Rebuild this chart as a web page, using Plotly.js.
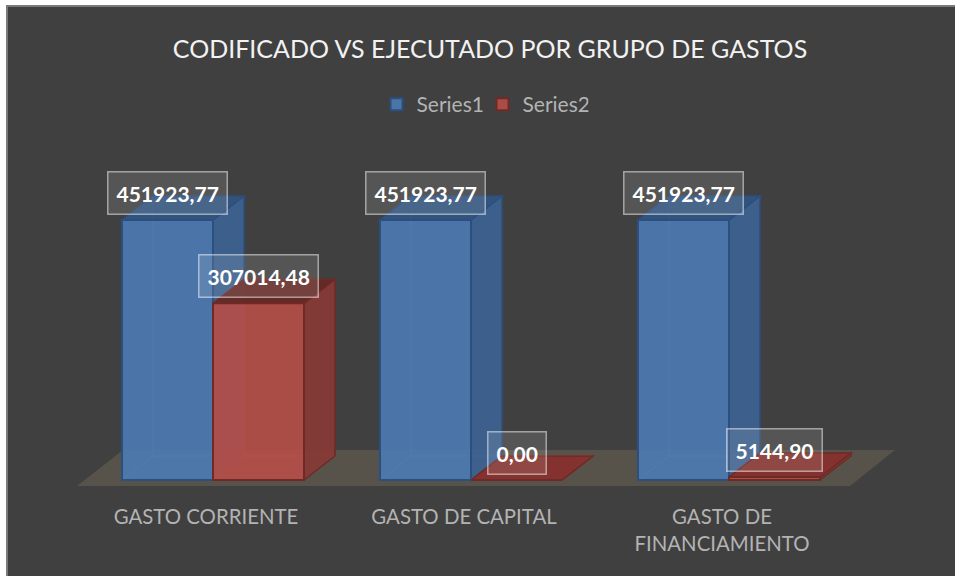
<!DOCTYPE html>
<html>
<head>
<meta charset="utf-8">
<script src="https://cdn.plot.ly/plotly-3.0.1.min.js"></script>
<style>
html,body{margin:0;padding:0;background:#fff;width:955px;height:576px;overflow:hidden}
#chart{position:absolute;left:6px;top:5px;width:947px;height:569px;border-left:2px solid #7a7a7a;border-top:2px solid #7a7a7a}
</style>
</head>
<body>
<div id="chart"></div>
<script>
var categories = ['GASTO CORRIENTE', 'GASTO DE CAPITAL', 'GASTO DE<br>FINANCIAMIENTO'];
var series1Name = 'Series1';
var series2Name = 'Series2';
var series1 = [451923.77, 451923.77, 451923.77];
var series2 = [307014.48, 0.00, 5144.90];
var chartTitle = 'CODIFICADO VS EJECUTADO POR GRUPO DE GASTOS';

// scale: pixels per unit of each axis
var PX_X = 258, PX_Y = 260 / 451923.77;
var barW = 91 / PX_X, depthX = 31 / PX_X, depthY = 24 / PX_Y;
var labelShift = -7 / PX_X;
var idx = categories.map(function (_, i) { return i; });

function poly(pts) {
  return 'M' + pts.map(function (p) { return p[0] + ',' + p[1]; }).join('L') + 'Z';
}
function shape(pts, fill, line, lw) {
  return {type: 'path', xref: 'x', yref: 'y', layer: 'below', path: poly(pts),
          fillcolor: fill, line: {color: line, width: lw === undefined ? 1.5 : lw}};
}
var shapes = [];
// floor
shapes.push({type: 'path', xref: 'x', yref: 'y', layer: 'below',
  path: poly([[(77 - 213) / PX_X, -6 / PX_Y], [(850 - 213) / PX_X, -6 / PX_Y],
              [(895 - 213) / PX_X, 30 / PX_Y], [(123 - 213) / PX_X, 30 / PX_Y]]),
  fillcolor: '#57534a', line: {width: 0}});

function box3d(x0, v, side, top, edge, inner) {
  var x1 = x0 + barW;
  // hidden rear edges, seen through the translucent front
  shapes.push({type: 'path', xref: 'x', yref: 'y', layer: 'below', fillcolor: 'rgba(0,0,0,0)',
    line: {color: inner, width: 1},
    path: 'M' + x0 + ',0L' + (x0 + depthX) + ',' + depthY + 'L' + (x1 + depthX) + ',' + depthY +
          'M' + (x0 + depthX) + ',' + depthY + 'L' + (x0 + depthX) + ',' + (v + depthY)});
  // side face
  shapes.push(shape([[x1, 0], [x1 + depthX, depthY], [x1 + depthX, v + depthY], [x1, v]], side, edge));
  // top face
  shapes.push(shape([[x0, v], [x1, v], [x1 + depthX, v + depthY], [x0 + depthX, v + depthY]], top, edge));
}
idx.forEach(function (i) { box3d(i - barW, series1[i], 'rgba(60,98,146,0.92)', 'rgba(50,84,128,0.95)', '#2b4f7e', '#5f8fc8'); });
idx.forEach(function (i) {
  box3d(i, series2[i], 'rgba(134,58,54,0.95)', series2[i] > 100000 ? 'rgba(100,42,38,0.97)' : 'rgba(132,50,46,0.97)', '#6f2a26', '#c0605a');
});

function fmt(v) { return v.toFixed(2).replace('.', ','); }
function label(x, v) {
  return {x: x, y: v, xref: 'x', yref: 'y', text: '<b>' + fmt(v) + '</b>', showarrow: false,
    xanchor: 'center', yanchor: 'middle', yshift: 27,
    font: {family: 'Lato, Carlito, sans-serif', size: 21, color: '#ffffff'},
    bgcolor: 'rgba(255,255,255,0.11)', bordercolor: 'rgba(255,255,255,0.5)', borderwidth: 1.5, borderpad: 8};
}
var annotations = [];
idx.forEach(function (i) { annotations.push(label(i - barW / 2, series1[i])); });
idx.forEach(function (i) { annotations.push(label(i + barW / 2, series2[i])); });

var traces = [
  {type: 'bar', name: series1Name, x: idx, y: series1, width: barW, offset: -barW,
   marker: {color: 'rgba(76,122,180,0.9)', line: {color: '#2b4f7e', width: 2}}, hoverinfo: 'skip'},
  {type: 'bar', name: series2Name, x: idx, y: series2, width: barW, offset: 0,
   marker: {color: 'rgba(180,78,72,0.92)', line: {color: '#6f2a26', width: 2}}, hoverinfo: 'skip'}
];

var layout = {
  width: 947, height: 569,
  paper_bgcolor: '#404040', plot_bgcolor: 'rgba(0,0,0,0)',
  margin: {l: 0, r: 0, t: 0, b: 81, pad: 0},
  barmode: 'overlay',
  title: {text: chartTitle, x: 0.509, xanchor: 'center', y: 0.926, yanchor: 'middle',
    font: {family: 'Lato, Carlito, sans-serif', size: 25, color: '#f2f2f2'}},
  xaxis: {range: [(8 - 213) / PX_X, (955 - 213) / PX_X], tickmode: 'array',
    tickvals: idx.map(function (i) { return i + labelShift; }), ticktext: categories,
    showgrid: false, zeroline: false, showline: false, ticks: '', ticklabelstandoff: 8,
    tickfont: {family: 'Lato, Carlito, sans-serif', size: 20.4, color: '#b3b3b3'}},
  yaxis: {range: [-15 / PX_Y, 473 / PX_Y], visible: false, showgrid: false, zeroline: false},
  showlegend: true,
  legend: {orientation: 'h', x: (376.5 - 8) / 947, xanchor: 'left', y: 1 - (84 - 7) / 488, yanchor: 'top',
    entrywidth: 61, entrywidthmode: 'pixels',
    font: {family: 'Lato, Carlito, sans-serif', size: 21, color: '#b3b3b3'},
    bgcolor: 'rgba(0,0,0,0)', itemclick: false, itemdoubleclick: false},
  shapes: shapes,
  annotations: annotations
};
Plotly.newPlot('chart', traces, layout, {displayModeBar: false, staticPlot: true});
</script>
</body>
</html>
